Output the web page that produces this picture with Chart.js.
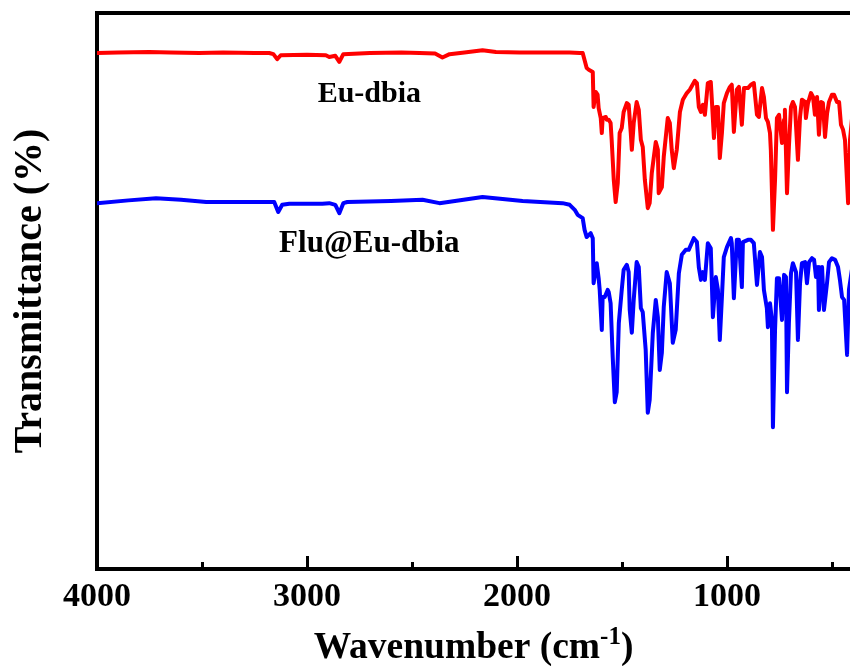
<!DOCTYPE html>
<html>
<head>
<meta charset="utf-8">
<script src="https://cdn.jsdelivr.net/npm/chart.js@4.4.1/dist/chart.umd.min.js"></script>
<style>
  html, body { margin: 0; padding: 0; background: #fff; }
  canvas { display: block; }
</style>
</head>
<body>
<canvas id="ftir" width="850" height="666"></canvas>
<script>
// FTIR spectra: wavenumber (cm-1) and transmittance (offset, arbitrary units)
const euWavenumber = [
  4000, 3900, 3752, 3650, 3514, 3400, 3250, 3180, 3160, 3142,
  3125, 3000, 2910, 2894, 2865, 2846, 2827, 2700, 2550, 2464,
  2390, 2355, 2321, 2250, 2164, 2100, 1987, 1850, 1750, 1701,
  1687, 1668, 1658, 1639, 1635, 1625, 1616, 1611, 1601, 1596,
  1592, 1577, 1573, 1563, 1554, 1549, 1539, 1530, 1520, 1511,
  1501, 1492, 1477, 1468, 1458, 1453, 1444, 1430, 1420, 1410,
  1401, 1391, 1377, 1368, 1358, 1339, 1329, 1325, 1310, 1301,
  1282, 1272, 1263, 1253, 1239, 1224, 1210, 1191, 1177, 1153,
  1143, 1134, 1124, 1115, 1105, 1091, 1077, 1072, 1062, 1053,
  1043, 1034, 1024, 1015, 1000, 986, 977, 967, 953, 943,
  929, 919, 900, 886, 872, 857, 848, 833, 824, 814,
  805, 795, 791, 781, 771, 762, 752, 738, 728, 724,
  714, 705, 695, 686, 676, 662, 652, 643, 628, 624,
  614, 600, 590, 581, 571, 562, 552, 543, 533, 523,
  514, 500, 490, 476, 466, 457, 447, 438, 428, 423,
  414, 405
];
const euTransmittance = [
  92.8, 92.9, 93.0, 92.9, 92.8, 92.9, 92.8, 92.8, 92.6, 91.7,
  92.4, 92.5, 92.4, 92.1, 92.3, 91.2, 92.6, 92.8, 92.9, 92.8,
  92.7, 92.0, 92.6, 92.9, 93.3, 93.0, 92.9, 92.9, 92.9, 92.8,
  92.8, 90.1, 89.8, 89.4, 83.1, 85.8, 85.3, 82.9, 81.1, 78.4,
  81.1, 81.3, 80.8, 80.8, 80.2, 77.2, 70.0, 66.0, 69.4, 78.4,
  79.3, 82.2, 83.8, 83.5, 78.4, 75.4, 80.2, 84.0, 82.6, 77.2,
  75.9, 70.0, 64.9, 65.8, 71.2, 76.8, 75.4, 67.6, 68.7, 74.1,
  81.1, 80.2, 75.4, 72.1, 75.4, 82.2, 84.4, 85.6, 86.2, 87.8,
  87.4, 83.1, 82.2, 83.5, 81.7, 87.4, 87.6, 84.4, 77.5, 83.1,
  83.1, 73.9, 78.4, 83.8, 85.6, 86.7, 87.1, 78.6, 86.2, 86.7,
  79.9, 86.5, 86.5, 87.1, 87.4, 81.7, 81.3, 86.5, 84.9, 81.1,
  80.4, 78.4, 75.4, 61.0, 70.0, 81.1, 81.7, 76.6, 80.8, 82.6,
  67.6, 75.9, 83.1, 84.0, 83.1, 73.6, 81.3, 84.4, 84.0, 81.1,
  83.8, 85.6, 84.9, 81.7, 84.9, 78.1, 84.0, 83.8, 77.7, 82.0,
  84.0, 85.3, 85.3, 84.0, 84.0, 79.9, 79.0, 77.2, 69.6, 65.8,
  77.2, 80.8
];
const fluWavenumber = [
  4000, 3850, 3719, 3600, 3480, 3275, 3156, 3137, 3118, 3084,
  2927, 2894, 2865, 2846, 2827, 2808, 2600, 2450, 2369, 2164,
  1973, 1783, 1749, 1725, 1711, 1687, 1678, 1668, 1649, 1639,
  1635, 1620, 1611, 1606, 1596, 1592, 1582, 1568, 1563, 1554,
  1544, 1534, 1525, 1515, 1501, 1492, 1477, 1468, 1463, 1453,
  1444, 1430, 1420, 1410, 1401, 1387, 1377, 1368, 1353, 1339,
  1329, 1320, 1310, 1301, 1287, 1272, 1258, 1244, 1229, 1215,
  1196, 1182, 1158, 1143, 1134, 1124, 1115, 1105, 1091, 1077,
  1067, 1053, 1043, 1034, 1024, 1015, 1000, 981, 977, 967,
  953, 943, 929, 924, 900, 886, 872, 857, 843, 833,
  824, 810, 805, 795, 786, 781, 771, 762, 752, 738,
  728, 719, 714, 705, 695, 686, 671, 662, 652, 643,
  628, 619, 609, 595, 585, 576, 566, 562, 547, 538,
  523, 514, 500, 485, 471, 462, 452, 442, 428, 419,
  405
];
const fluTransmittance = [
  65.8, 66.3, 66.7, 66.4, 66.0, 66.0, 66.0, 64.2, 65.5, 65.7,
  65.7, 65.8, 65.5, 64.0, 65.8, 66.0, 66.2, 66.4, 65.8, 66.9,
  66.2, 65.8, 65.5, 64.6, 63.7, 63.1, 61.0, 59.7, 60.4, 59.5,
  51.4, 55.0, 52.3, 50.2, 43.0, 48.9, 48.9, 50.2, 49.8, 47.8,
  38.1, 30.0, 31.8, 44.2, 50.2, 53.8, 54.7, 53.4, 46.6, 42.5,
  48.4, 55.2, 54.3, 46.9, 46.2, 39.4, 28.1, 30.4, 42.5, 48.4,
  45.3, 35.8, 38.9, 47.1, 53.4, 51.4, 40.7, 43.0, 53.2, 56.5,
  57.4, 57.4, 59.5, 58.8, 54.3, 52.0, 53.4, 52.0, 58.6, 57.7,
  45.3, 52.5, 50.2, 41.2, 48.9, 56.1, 57.9, 59.5, 58.6, 48.7,
  59.2, 59.2, 50.7, 58.8, 59.2, 59.2, 58.6, 51.1, 57.0, 56.1,
  50.2, 46.9, 43.5, 47.8, 44.8, 25.5, 43.0, 52.3, 52.3, 44.8,
  52.9, 52.5, 31.8, 44.2, 53.2, 55.0, 53.4, 41.2, 51.4, 55.0,
  55.2, 51.4, 55.2, 55.9, 55.6, 52.5, 54.3, 46.6, 54.3, 46.6,
  51.6, 55.2, 55.9, 55.6, 54.3, 52.0, 48.9, 48.4, 38.5, 50.2,
  53.8
];
const seriesNames = ['Eu-dbia', 'Flu@Eu-dbia'];
const seriesColors = ['#ff0000', '#0000ff'];
const majorTicks = [4000, 3000, 2000, 1000];
const minorTicks = [3500, 2500, 1500, 500];

const serif = '"Liberation Serif", "Times New Roman", serif';

// where the sample names sit, in data coordinates
const nameSpots = [{x: 2703, y: 84.0}, {x: 2703, y: 57.0}];

function toPoints(xs, ys) {
  return xs.map((x, i) => ({x: x, y: ys[i]}));
}

// top edge, inward ticks, sample names and axis titles
const decorations = {
  id: 'decorations',
  afterDraw(chart) {
    const ctx = chart.ctx;
    const area = chart.chartArea;
    const xs = chart.scales.x, ys = chart.scales.y;
    ctx.save();
    ctx.strokeStyle = '#000';
    ctx.lineWidth = 4;
    ctx.beginPath();
    ctx.moveTo(area.left - 2, area.top);
    ctx.lineTo(area.right, area.top);
    ctx.stroke();

    ctx.lineWidth = 3;
    const tick = (v, len) => {
      const px = Math.round(xs.getPixelForValue(v)) + 0.5;
      if (px < area.left + 2 || px > area.right) return;
      ctx.beginPath();
      ctx.moveTo(px, area.bottom);
      ctx.lineTo(px, area.bottom - len);
      ctx.stroke();
    };
    majorTicks.forEach(v => tick(v, 13));
    minorTicks.forEach(v => tick(v, 7));

    ctx.fillStyle = '#000';
    ctx.textAlign = 'center';
    ctx.textBaseline = 'alphabetic';
    ctx.font = 'bold 30px ' + serif;
    ctx.fillText(seriesNames[0], xs.getPixelForValue(nameSpots[0].x), ys.getPixelForValue(nameSpots[0].y));
    ctx.font = 'bold 31px ' + serif;
    ctx.fillText(seriesNames[1], xs.getPixelForValue(nameSpots[1].x), ys.getPixelForValue(nameSpots[1].y));

    // x title with superscript -1
    const big = 'bold 37.5px ' + serif, small = 'bold 25px ' + serif;
    const partA = 'Wavenumber (cm', sup = '-1', partB = ')';
    ctx.font = big;
    const wA = ctx.measureText(partA).width, wB = ctx.measureText(partB).width;
    ctx.font = small;
    const wS = ctx.measureText(sup).width;
    let x0 = (area.left + area.right) / 2 - (wA + wS + wB) / 2;
    const base = 658;
    ctx.textAlign = 'left';
    ctx.font = big;
    ctx.fillText(partA, x0, base);
    ctx.font = small;
    ctx.fillText(sup, x0 + wA, base - 14);
    ctx.font = big;
    ctx.fillText(partB, x0 + wA + wS, base);

    // y title
    ctx.translate(31, (area.top + area.bottom) / 2);
    ctx.rotate(-Math.PI / 2);
    ctx.textAlign = 'center';
    ctx.textBaseline = 'middle';
    ctx.font = 'bold 40px ' + serif;
    ctx.fillText('Transmittance (%)', 0, 0);
    ctx.restore();
  }
};

new Chart(document.getElementById('ftir').getContext('2d'), {
  type: 'line',
  data: {
    datasets: [
      {
        label: seriesNames[0],
        data: toPoints(euWavenumber, euTransmittance),
        borderColor: seriesColors[0]
      },
      {
        label: seriesNames[1],
        data: toPoints(fluWavenumber, fluTransmittance),
        borderColor: seriesColors[1]
      }
    ]
  },
  options: {
    responsive: false,
    animation: false,
    events: [],
    layout: { padding: { top: 13, left: 0, right: 0, bottom: 0 } },
    elements: {
      line: { borderWidth: 4, tension: 0, borderJoinStyle: 'round', borderCapStyle: 'round' },
      point: { radius: 0 }
    },
    plugins: {
      legend: { display: false },
      tooltip: { enabled: false }
    },
    scales: {
      x: {
        type: 'linear',
        reverse: true,
        min: 414,
        max: 4000,
        afterFit: s => { s.height = 97; },
        afterBuildTicks: s => { s.ticks = majorTicks.map(v => ({value: v})); },
        grid: { display: false, drawTicks: false },
        border: { display: true, color: '#000', width: 4 },
        ticks: {
          padding: 8,
          maxRotation: 0,
          color: '#000',
          font: { family: serif, size: 34, weight: 'bold' },
          callback: v => String(v)
        }
      },
      y: {
        min: 0,
        max: 100,
        afterFit: s => { s.width = 97; },
        grid: { display: false, drawTicks: false },
        border: { display: true, color: '#000', width: 4 },
        ticks: { display: false }
      }
    }
  },
  plugins: [decorations]
});
</script>
</body>
</html>
